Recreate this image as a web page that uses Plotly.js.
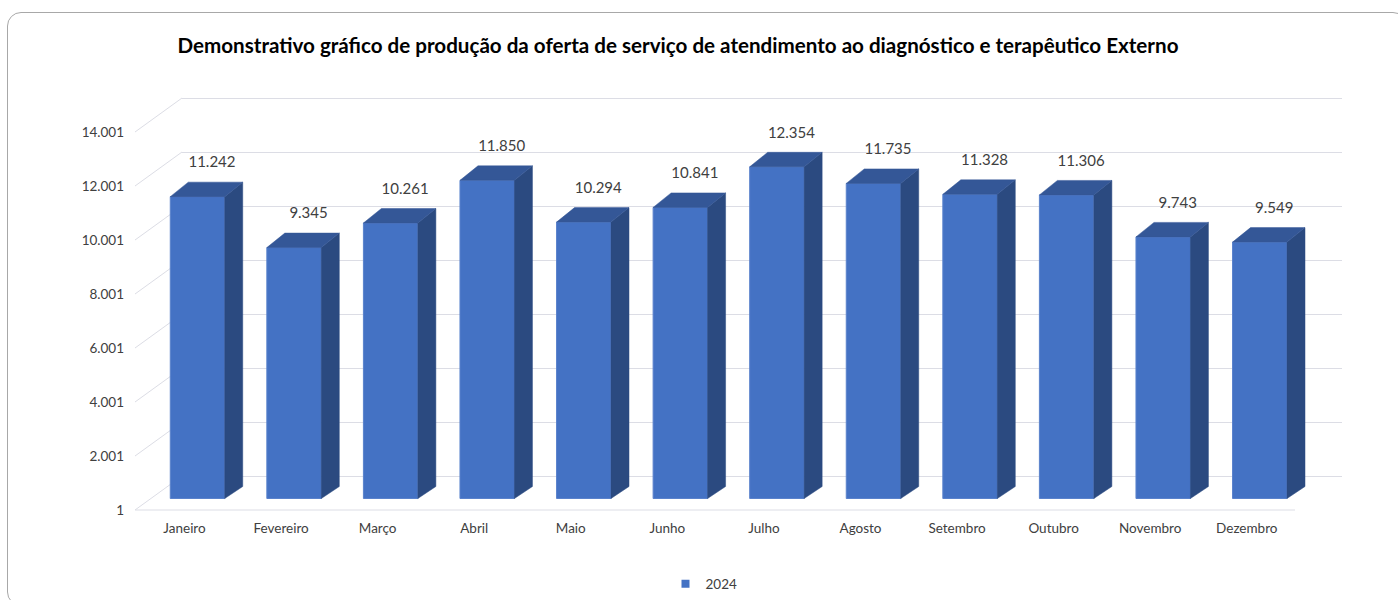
<!DOCTYPE html>
<html>
<head>
<meta charset="utf-8">
<script src="https://cdn.plot.ly/plotly-3.0.1.min.js"></script>
<style>
  html, body { margin:0; padding:0; background:#ffffff; width:1398px; height:600px; overflow:hidden; }
  #frame { position:absolute; left:7px; top:12px; width:1400px; height:594px; border:1.5px solid #a8a8a8; border-radius:14px; box-sizing:border-box; }
  #chart { position:absolute; left:0; top:0; width:1398px; height:600px; }
</style>
</head>
<body>
<div id="frame"></div>
<div id="chart"></div>
<script>
// ---- data ----
const months = ['Janeiro','Fevereiro','Março','Abril','Maio','Junho','Julho','Agosto','Setembro','Outubro','Novembro','Dezembro'];
const values2024 = [11242, 9345, 10261, 11850, 10294, 10841, 12354, 11735, 11328, 11306, 9743, 9549];
const yTickVals = [1, 2001, 4001, 6001, 8001, 10001, 12001, 14001];
const seriesName = '2024';
const titleText = 'Demonstrativo gráfico de produção da oferta de serviço de atendimento ao diagnóstico e terapêutico Externo';

// ---- geometry helpers (pixel -> paper) ----
const W = 1398, H = 600;
const px = x => x / W;
const py = y => 1 - y / H;

const plotTop = 95, plotBottom = 510;
const frontLeft = 135, backLeft = 182, backRight = 1342, floorRight = 1295;
const pitch = 96.57, firstCenter = 197.5;        // px per category, first bar center
const scaleAxis = 0.027;                          // px per unit on the walls
const scaleBar = 0.02685;                         // px per unit on bar plane
const barBase = 498.5;                            // px of zero on bar plane
const wallShiftY = 34;

const barW = 0.564;                               // in category units
const depthX = 18 / pitch;
const depthTop = 14.5 / scaleBar;
const depthBottom = 12 / scaleBar;
const labelDy = 33 / scaleBar;

const idx = months.map((m, i) => i);

// side & top faces of the 3D bars
const sideX = [], sideY = [], topX = [], topY = [];
values2024.forEach((v, i) => {
  const r = i + barW / 2, l = i - barW / 2;
  sideX.push(r, r + depthX, r + depthX, r, r, null);
  sideY.push(0, depthBottom, v + depthTop, v, 0, null);
  topX.push(l, r, r + depthX, l + depthX, l, null);
  topY.push(v, v, v + depthTop, v + depthTop, v, null);
});

const gridColor = '#dcdde5';
const textColor = '#404040';
const fontFam = 'Lato, "Open Sans", sans-serif';

const traces = [
  { type:'scatter', x:[], y:[], xaxis:'x', yaxis:'y', showlegend:false, hoverinfo:'skip' },
  { type:'bar', x: idx, y: values2024, xaxis:'x2', yaxis:'y2', width: barW,
    marker:{ color:'#4472C4', line:{ color:'#5a82cc', width:1 } }, showlegend:false, hoverinfo:'skip' },
  { type:'scatter', x: sideX, y: sideY, xaxis:'x2', yaxis:'y2', mode:'lines', fill:'toself',
    fillcolor:'#2b4a80', line:{ color:'#2b4a80', width:0.5 }, showlegend:false, hoverinfo:'skip' },
  { type:'scatter', x: topX, y: topY, xaxis:'x2', yaxis:'y2', mode:'lines', fill:'toself',
    fillcolor:'#345797', line:{ color:'#345797', width:0.5 }, showlegend:false, hoverinfo:'skip' },
  { type:'scatter', x: idx.map(i => i + 0.15), y: values2024.map(v => v + labelDy), customdata: values2024,
    xaxis:'x2', yaxis:'y2', mode:'text', texttemplate:'%{customdata:,d}', textposition:'middle center',
    textfont:{ family: fontFam, size: 15, color: textColor }, showlegend:false, hoverinfo:'skip' },
  { type:'scatter', x:[], y:[], xaxis:'x2', yaxis:'y3', showlegend:false, hoverinfo:'skip' },
  { type:'scatter', x:[null], y:[null], xaxis:'x2', yaxis:'y2', mode:'markers', name: seriesName,
    marker:{ symbol:'square', size:8, color:'#4472C4' }, showlegend:true, hoverinfo:'skip' }
];

const shapes = yTickVals.map(v => ({
  type:'line', layer:'below', xref:'paper', yref:'y3',
  x0: px(frontLeft), y0: v, x1: px(backLeft), y1: v + wallShiftY / scaleAxis,
  line:{ color: gridColor, width: 1 }
}));
shapes.push({ type:'line', layer:'below', xref:'paper', yref:'paper',
  x0: px(frontLeft), x1: px(floorRight), y0: py(plotBottom), y1: py(plotBottom),
  line:{ color: gridColor, width: 1 } });

const yDom = [py(plotBottom), py(plotTop)];
const layout = {
  width: W, height: H,
  margin:{ l:0, r:0, t:0, b:0 },
  paper_bgcolor:'rgba(0,0,0,0)', plot_bgcolor:'rgba(0,0,0,0)',
  separators:',.',
  font:{ family: fontFam, color: textColor, size: 13 },
  title:{ text: titleText, x: px(678), xanchor:'center', y: py(46), yanchor:'middle', yref:'paper',
          font:{ family: fontFam, size: 20.6, weight: 'bold', color:'#000000' } },
  xaxis:{ domain:[px(backLeft), px(backRight)], range:[0,1], anchor:'y', visible:false, fixedrange:true },
  yaxis:{ domain: yDom, anchor:'x', range:[1 - wallShiftY / scaleAxis, 1 + (plotBottom - wallShiftY - plotTop) / scaleAxis],
          tickmode:'array', tickvals: yTickVals, showgrid:true, gridcolor: gridColor, gridwidth:1,
          showticklabels:false, zeroline:false, showline:false, ticks:'', fixedrange:true },
  xaxis2:{ domain:[px(frontLeft), px(backRight)], anchor:'y2',
           range:[(frontLeft - firstCenter) / pitch, (backRight - firstCenter) / pitch],
           tickmode:'array', tickvals: idx, ticktext: months, ticks:'', showgrid:false, zeroline:false, showline:false,
           ticklabelshift: -13, ticklabelstandoff: 8,
           tickfont:{ family: fontFam, size: 13.5, color: textColor }, fixedrange:true },
  yaxis2:{ domain: yDom, anchor:'x2', range:[(barBase - plotBottom) / scaleBar, (barBase - plotTop) / scaleBar],
           visible:false, fixedrange:true },
  yaxis3:{ overlaying:'y2', anchor:'x2', side:'left', range:[1, 1 + (plotBottom - plotTop) / scaleAxis],
           tickmode:'array', tickvals: yTickVals, tickformat:',d', showgrid:false, zeroline:false, showline:false,
           ticks:'', ticklabelstandoff: 10, tickfont:{ family: fontFam, size: 13.5, color: textColor }, fixedrange:true },
  shapes: shapes,
  showlegend:true,
  legend:{ orientation:'h', x: px(704), xanchor:'center', y: py(584), yanchor:'middle',
           font:{ family: fontFam, size: 13.5, color: textColor }, bgcolor:'rgba(0,0,0,0)' }
};

Plotly.newPlot('chart', traces, layout, { displayModeBar:false, staticPlot:true });
</script>
</body>
</html>
